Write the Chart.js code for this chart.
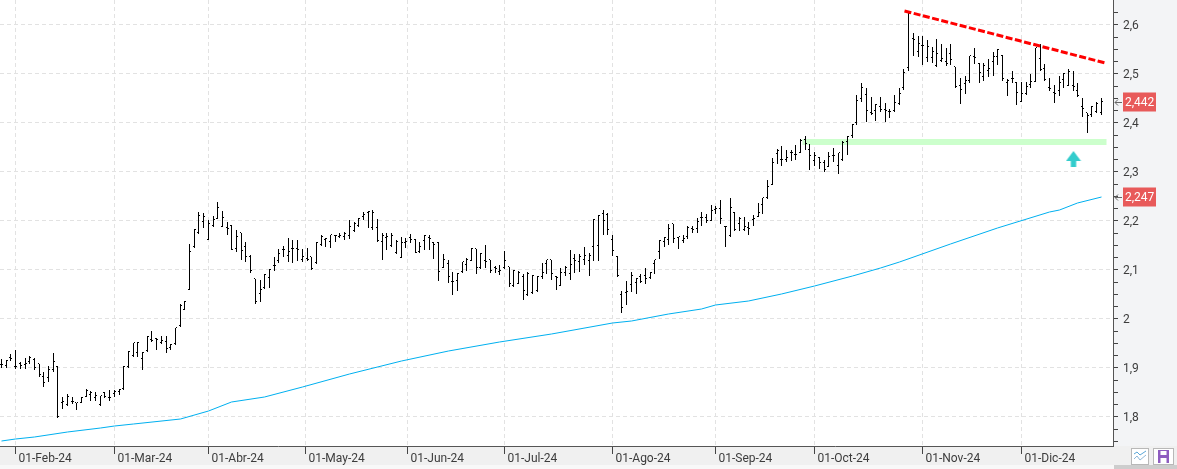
<!DOCTYPE html>
<html>
<head>
<meta charset="utf-8">
<style>html,body{margin:0;padding:0;background:#fff}canvas{display:block}</style>
<script src="https://cdn.jsdelivr.net/npm/chart.js@4/dist/chart.umd.js"></script>
</head>
<body>
<canvas id="c" width="1177" height="469"></canvas>
<script>
const opens = [
1.904,1.903,1.918,1.901,1.907,1.905,1.910,1.914,1.906,1.881,
1.878,1.895,1.901,1.827,1.823,1.830,1.828,1.828,1.840,1.844,
1.837,1.823,1.847,1.837,1.846,1.850,1.855,1.901,1.924,1.929,
1.916,1.934,1.956,1.957,1.950,1.952,1.939,1.947,1.985,2.016,
2.057,2.145,2.175,2.196,2.159,2.188,2.203,2.186,2.184,2.188,
2.141,2.174,2.145,2.125,2.080,2.049,2.061,2.082,2.107,2.117,
2.139,2.127,2.141,2.141,2.118,2.121,2.125,2.112,2.150,2.159,
2.156,2.167,2.165,2.165,2.167,2.178,2.188,2.207,2.214,2.184,
2.184,2.155,2.163,2.148,2.134,2.124,2.154,2.163,2.160,2.136,
2.158,2.163,2.154,2.154,2.103,2.110,2.075,2.076,2.094,2.109,
2.116,2.141,2.103,2.116,2.118,2.102,2.094,2.103,2.105,2.065,
2.071,2.085,2.048,2.051,2.056,2.084,2.111,2.118,2.084,2.066,
2.092,2.090,2.122,2.114,2.118,2.117,2.146,2.147,2.213,2.211,
2.160,2.125,2.047,2.051,2.067,2.073,2.085,2.086,2.082,2.111,
2.135,2.155,2.160,2.192,2.163,2.158,2.165,2.182,2.182,2.204,
2.205,2.199,2.221,2.224,2.187,2.167,2.215,2.192,2.180,2.184,
2.201,2.207,2.231,2.246,2.273,2.335,2.324,2.324,2.337,2.333,
2.337,2.363,2.344,2.322,2.328,2.316,2.308,2.331,2.311,2.323,
2.359,2.372,2.398,2.447,2.456,2.420,2.424,2.431,2.425,2.422,
2.423,2.437,2.471,2.510,2.571,2.543,2.556,2.532,2.531,2.514,
2.525,2.524,2.539,2.513,2.474,2.478,2.484,2.534,2.520,2.493,
2.505,2.524,2.533,2.536,2.480,2.488,2.480,2.442,2.457,2.476,
2.483,2.529,2.509,2.469,2.459,2.464,2.486,2.474,2.474,2.464,
2.432,2.418,2.414,2.422,2.418];
const highs = [
1.916,1.914,1.927,1.935,1.911,1.918,1.923,1.918,1.907,1.891,
1.902,1.929,1.902,1.839,1.846,1.839,1.828,1.839,1.855,1.851,
1.850,1.842,1.850,1.853,1.854,1.856,1.902,1.933,1.950,1.951,
1.932,1.963,1.974,1.959,1.963,1.964,1.948,1.980,2.029,2.035,
2.152,2.182,2.216,2.214,2.2,2.209,2.237,2.218,2.196,2.190,
2.180,2.175,2.156,2.129,2.080,2.078,2.090,2.101,2.125,2.141,
2.148,2.164,2.159,2.159,2.141,2.144,2.125,2.155,2.171,2.163,
2.171,2.170,2.175,2.176,2.2,2.196,2.205,2.217,2.220,2.222,
2.202,2.175,2.175,2.174,2.159,2.165,2.163,2.172,2.162,2.156,
2.170,2.171,2.156,2.155,2.131,2.120,2.095,2.092,2.114,2.123,
2.143,2.141,2.133,2.150,2.119,2.107,2.109,2.137,2.105,2.099,
2.097,2.090,2.095,2.088,2.086,2.112,2.120,2.119,2.086,2.102,
2.107,2.139,2.131,2.131,2.146,2.133,2.203,2.211,2.221,2.214,
2.171,2.127,2.056,2.076,2.094,2.082,2.090,2.103,2.094,2.119,
2.160,2.166,2.192,2.192,2.165,2.171,2.189,2.189,2.204,2.216,
2.212,2.231,2.230,2.241,2.189,2.245,2.216,2.207,2.207,2.197,
2.211,2.235,2.245,2.282,2.327,2.345,2.352,2.344,2.344,2.354,
2.365,2.372,2.356,2.339,2.329,2.323,2.339,2.348,2.337,2.361,
2.372,2.396,2.456,2.480,2.471,2.451,2.437,2.451,2.439,2.427,
2.456,2.471,2.508,2.624,2.582,2.576,2.576,2.567,2.553,2.571,
2.560,2.552,2.560,2.513,2.490,2.495,2.536,2.551,2.522,2.522,
2.529,2.543,2.550,2.537,2.488,2.505,2.482,2.482,2.483,2.499,
2.552,2.559,2.520,2.490,2.476,2.495,2.5,2.508,2.505,2.480,
2.449,2.420,2.433,2.441,2.449];
const lows = [
1.898,1.899,1.912,1.896,1.896,1.897,1.907,1.894,1.881,1.859,
1.871,1.890,1.796,1.814,1.822,1.825,1.813,1.828,1.840,1.832,
1.832,1.821,1.837,1.832,1.840,1.844,1.854,1.899,1.921,1.922,
1.895,1.931,1.952,1.936,1.948,1.929,1.935,1.946,1.983,2.016,
2.057,2.143,2.173,2.185,2.159,2.186,2.202,2.186,2.171,2.139,
2.136,2.120,2.115,2.093,2.030,2.034,2.060,2.061,2.097,2.112,
2.126,2.114,2.113,2.117,2.114,2.116,2.099,2.110,2.147,2.146,
2.144,2.156,2.163,2.159,2.162,2.177,2.187,2.201,2.185,2.180,
2.155,2.120,2.139,2.146,2.132,2.124,2.144,2.154,2.133,2.134,
2.139,2.139,2.122,2.077,2.103,2.073,2.048,2.056,2.092,2.097,
2.116,2.091,2.1,2.102,2.093,2.093,2.089,2.1,2.063,2.063,
2.069,2.038,2.046,2.049,2.054,2.080,2.090,2.078,2.058,2.065,
2.086,2.078,2.093,2.094,2.109,2.086,2.116,2.116,2.170,2.171,
2.127,2.085,2.010,2.027,2.054,2.050,2.073,2.069,2.080,2.090,
2.121,2.146,2.150,2.153,2.141,2.154,2.161,2.175,2.175,2.189,
2.194,2.199,2.213,2.192,2.146,2.165,2.178,2.178,2.179,2.171,
2.188,2.207,2.213,2.244,2.272,2.315,2.311,2.320,2.322,2.324,
2.337,2.344,2.303,2.311,2.304,2.299,2.308,2.320,2.295,2.322,
2.333,2.368,2.394,2.442,2.401,2.415,2.403,2.422,2.401,2.409,
2.422,2.435,2.466,2.505,2.536,2.534,2.517,2.524,2.522,2.512,
2.524,2.515,2.517,2.471,2.437,2.457,2.481,2.518,2.481,2.484,
2.493,2.495,2.516,2.484,2.454,2.480,2.435,2.441,2.456,2.471,
2.483,2.505,2.484,2.463,2.440,2.453,2.471,2.474,2.464,2.452,
2.410,2.379,2.410,2.418,2.414];
const closes = [
1.904,1.912,1.917,1.900,1.903,1.907,1.918,1.898,1.884,1.867,
1.895,1.910,1.799,1.829,1.839,1.829,1.827,1.838,1.852,1.847,
1.841,1.841,1.839,1.838,1.850,1.854,1.901,1.931,1.949,1.950,
1.929,1.961,1.954,1.956,1.954,1.938,1.946,1.980,2.025,2.033,
2.136,2.181,2.208,2.207,2.192,2.201,2.226,2.204,2.182,2.139,
2.165,2.137,2.126,2.097,2.033,2.058,2.088,2.099,2.107,2.131,
2.139,2.136,2.141,2.139,2.125,2.120,2.100,2.154,2.165,2.161,
2.169,2.167,2.167,2.173,2.186,2.193,2.203,2.211,2.216,2.214,
2.157,2.167,2.165,2.167,2.156,2.154,2.156,2.160,2.134,2.145,
2.168,2.161,2.150,2.094,2.120,2.084,2.075,2.090,2.114,2.118,
2.141,2.102,2.131,2.114,2.097,2.1,2.097,2.116,2.071,2.097,
2.093,2.056,2.090,2.086,2.084,2.092,2.119,2.090,2.082,2.092,
2.102,2.109,2.116,2.126,2.128,2.127,2.201,2.208,2.199,2.180,
2.137,2.087,2.022,2.053,2.086,2.080,2.075,2.080,2.092,2.118,
2.158,2.163,2.182,2.161,2.165,2.161,2.184,2.181,2.196,2.205,
2.199,2.220,2.224,2.202,2.187,2.226,2.180,2.203,2.187,2.182,
2.202,2.214,2.245,2.267,2.316,2.341,2.324,2.327,2.337,2.333,
2.361,2.356,2.331,2.332,2.316,2.303,2.330,2.331,2.337,2.358,
2.371,2.395,2.444,2.469,2.424,2.417,2.435,2.426,2.424,2.422,
2.440,2.458,2.5,2.622,2.568,2.559,2.556,2.554,2.544,2.539,
2.529,2.518,2.527,2.472,2.465,2.484,2.535,2.532,2.5,2.515,
2.508,2.533,2.548,2.488,2.484,2.488,2.459,2.457,2.473,2.482,
2.551,2.507,2.486,2.468,2.457,2.480,2.498,2.503,2.473,2.454,
2.427,2.412,2.432,2.437,2.442];

// moving average, read at visible vertices (bar index, price)
const maIndex = [0,3,7,14,21,24,28,38,44,49,56,64,74,85,95,106,117,130,134,142,149,152,159,166,173,181,187,191,202,212,223,225,229,234];
const maValues = [1.750,1.754,1.758,1.767,1.777,1.780,1.784,1.795,1.811,1.829,1.840,1.859,1.886,1.913,1.933,1.952,1.968,1.990,1.995,2.009,2.019,2.027,2.035,2.050,2.066,2.086,2.103,2.114,2.152,2.184,2.216,2.221,2.235,2.247];

const monthTickIndex = [3,24,44,64.7,86.3,107,130,152,173,196,217];
const monthTickLabels = ["01-Feb-24","01-Mar-24","01-Abr-24","01-May-24","01-Jun-24","01-Jul-24","01-Ago-24","01-Sep-24","01-Oct-24","01-Nov-24","01-Dic-24"];
const priceTicks = [1.75,1.775,1.8,1.825,1.85,1.875,1.9,1.925,1.95,1.975,2,2.025,2.05,2.075,2.1,2.125,2.15,2.175,2.2,2.225,2.25,2.275,2.3,2.325,2.35,2.375,2.4,2.425,2.45,2.475,2.5,2.525,2.55,2.575,2.6,2.625];

const trendIndex = [192.2,234.9];
const trendValues = [2.627,2.521];
const supportIndex = [170.3,235.1];
const supportValues = [2.36,2.36];
const arrowIndex = [228.06];
const arrowValues = [2.325];
const lastPrice = 2.442;
const lastAverage = 2.247;

class SnapLinear extends Chart.LinearScale {
  getPixelForValue(v){ return Math.floor(super.getPixelForValue(v)) + 0.5; }
}
SnapLinear.id = 'snapX';
SnapLinear.defaults = Chart.LinearScale.defaults;
class SnapLinearY extends Chart.LinearScale {
  getPixelForValue(v){ return Math.round(super.getPixelForValue(v)); }
}
SnapLinearY.id = 'snapY';
SnapLinearY.defaults = Chart.LinearScale.defaults;
Chart.register(SnapLinear, SnapLinearY);

function tickImage(cols){
  const c = document.createElement('canvas'); c.width = 5; c.height = 2;
  const g = c.getContext('2d'); g.fillStyle = '#000';
  g.fillRect(cols[0],0,cols[1],1);
  return c;
}
const openImg = tickImage([1,1]);
const closeImg = tickImage([3,1]);
function arrowImage(){
  const c = document.createElement('canvas'); c.width = 16; c.height = 16;
  const g = c.getContext('2d'); g.fillStyle = '#33cccc';
  g.beginPath(); g.moveTo(8,0); g.lineTo(15.5,10); g.lineTo(10.7,10); g.lineTo(10.7,16);
  g.lineTo(5.3,16); g.lineTo(5.3,10); g.lineTo(0.5,10); g.closePath(); g.fill();
  return c;
}

const chrome = {
  id:'chrome',
  beforeDraw(chart){
    const g = chart.ctx, a = chart.chartArea;
    g.save();
    g.fillStyle = '#ffffff'; g.fillRect(0,0,1177,469);
    g.fillStyle = '#f3f4f6'; g.fillRect(a.right,0,1177-a.right,a.bottom);
    g.fillStyle = '#f0f0f0'; g.fillRect(0,a.bottom,1177,19);
    g.fillStyle = '#f8f8f8'; g.fillRect(0,465,1114,4);
    g.fillStyle = '#cdcdcd'; g.fillRect(1114,465,63,4);
    g.restore();
  },
  afterDraw(chart){
    const g = chart.ctx, y = chart.scales.y;
    g.save();
    [[lastPrice,'2,442'],[lastAverage,'2,247']].forEach(([v,t])=>{
      const p = y.getPixelForValue(v);
      g.fillStyle = '#e85a5a'; g.fillRect(1123,p-9.5,33,19);
      g.fillStyle = '#ffffff'; g.font = '12px Roboto'; g.textBaseline='middle'; g.textAlign='left';
      g.fillText(t,1125,p+1);
      g.strokeStyle = '#666'; g.lineWidth = 1; g.beginPath();
      g.moveTo(1122,p+0.5); g.lineTo(1115,p+0.5); g.moveTo(1118,p-2.5); g.lineTo(1115,p+0.5); g.lineTo(1118,p+3.5); g.stroke();
    });
    // toolbar buttons
    g.fillStyle='#fff'; g.strokeStyle='#b8b8b8'; g.lineWidth=1;
    g.fillRect(1131,448,18,17); g.strokeRect(1131.5,448.5,17,16);
    g.fillRect(1153,448,21,17); g.strokeRect(1153.5,448.5,20,16);
    g.strokeStyle='#5aa7d8'; g.beginPath();
    g.moveTo(1134,454); g.lineTo(1137,452); g.lineTo(1140,455); g.lineTo(1146,451); g.stroke();
    g.strokeStyle='#8fb8d8'; g.beginPath();
    g.moveTo(1134,459); g.lineTo(1137,456); g.lineTo(1140,460); g.lineTo(1146,455); g.stroke();
    g.fillStyle='#8e5cc0'; g.fillRect(1158,450,11,13);
    g.fillStyle='#fff'; g.fillRect(1160.5,451,6,4); g.fillRect(1160.5,458,6,5);
    g.restore();
  }
};

new Chart(document.getElementById('c'),{
  type:'bar',
  plugins:[chrome],
  data:{datasets:[
    {type:'line',order:10,data:supportIndex.map((x,i)=>({x,y:supportValues[i]})),borderColor:'#ccffcc',borderWidth:6,pointRadius:0,borderCapStyle:'butt'},
    {type:'line',order:5,data:maIndex.map((x,i)=>({x,y:maValues[i]})),borderColor:'#00b0f0',borderWidth:1,pointRadius:0,tension:0},
    {type:'bar',order:3,data:highs.map((h,i)=>({x:i,y:[lows[i],h]})),backgroundColor:'#000',borderWidth:0,barThickness:1,inflateAmount:0},
    {type:'scatter',order:2,data:opens.map((v,i)=>({x:i,y:v})),pointStyle:openImg,showLine:false},
    {type:'scatter',order:2,data:closes.map((v,i)=>({x:i,y:v})),pointStyle:closeImg,showLine:false},
    {type:'line',order:1,data:trendIndex.map((x,i)=>({x,y:trendValues[i]})),borderColor:'#ff0000',borderWidth:3,borderDash:[7,2.5],pointRadius:0,borderCapStyle:'butt'},
    {type:'scatter',order:1,data:arrowIndex.map((x,i)=>({x,y:arrowValues[i]})),pointStyle:arrowImage(),showLine:false}
  ]},
  options:{
    responsive:false,animation:false,
    layout:{padding:0,autoPadding:false},
    plugins:{legend:{display:false},tooltip:{enabled:false}},
    events:[],
    scales:{
      x:{type:'snapX',min:-0.34,max:236.47,offset:false,
        afterFit(s){s.height=23;s.paddingLeft=0;s.paddingRight=0;},
        afterBuildTicks(s){s.ticks=monthTickIndex.map(value=>({value}));},
        grid:{offset:false,color:'#e2e2e2',tickColor:'#444',tickLength:8,lineWidth:1,drawTicks:true},
        border:{color:'#555',width:1,dash:[4,3]},
        ticks:{autoSkip:false,maxRotation:0,minRotation:0,align:'start',labelOffset:3,padding:-2,color:'#3c3c3c',
          font:{family:'Roboto',size:12},
          callback(v,i){return monthTickLabels[i];}}
      },
      y:{type:'snapY',position:'right',min:1.7394,max:2.6496,
        afterFit(s){s.width=64;s.paddingTop=0;s.paddingBottom=0;},
        afterBuildTicks(s){s.ticks=priceTicks.map(value=>({value}));},
        grid:{color(c){return Math.abs(c.tick.value*10-Math.round(c.tick.value*10))<1e-6?'#e2e2e2':'transparent';},tickColor:'#444',tickLength:5,drawTicks:true},
        border:{color:'#555',width:1,dash:[4,3]},
        ticks:{autoSkip:false,padding:5,labelOffset:1.5,color:'#3c3c3c',font:{family:'Roboto',size:12},
          callback(v){const t=Math.round(v*1000)/1000;return Math.abs(t*10-Math.round(t*10))<1e-6?String(Math.round(t*10)/10).replace('.',','):'';}}
      }
    }
  }
});
</script>
</body>
</html>
